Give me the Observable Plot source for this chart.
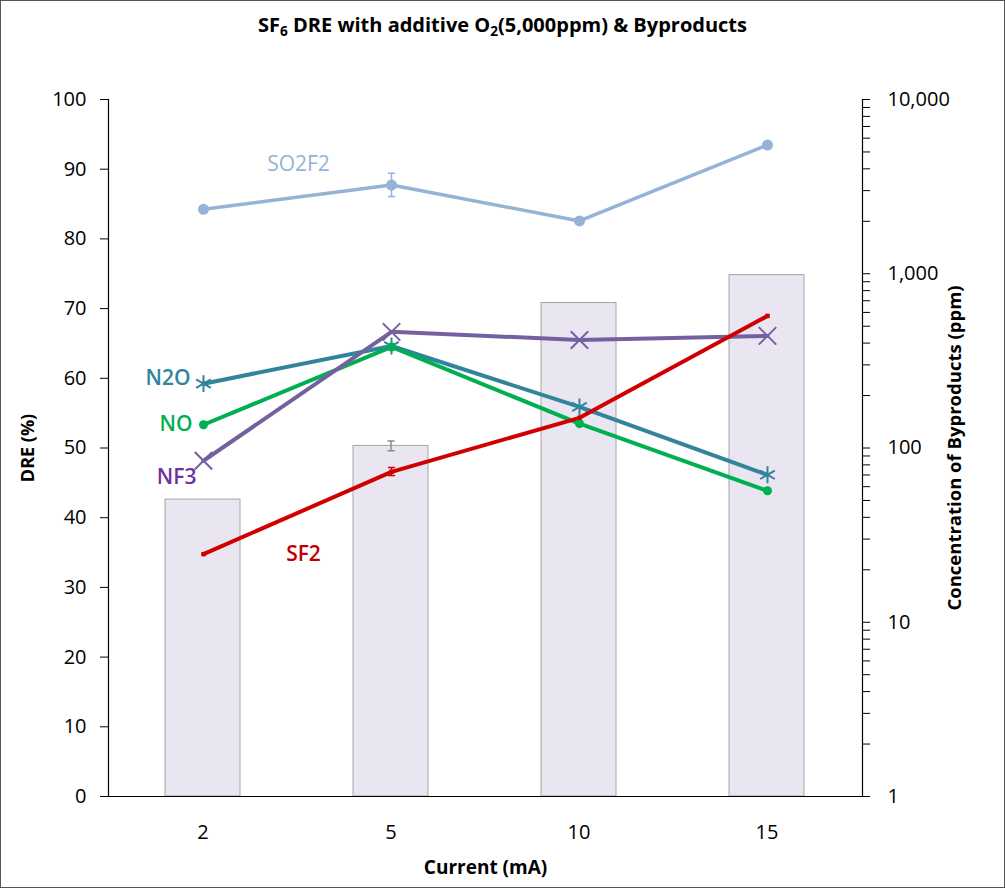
<!DOCTYPE html>
<html><head><meta charset="utf-8">
<script src="https://cdn.jsdelivr.net/npm/d3@7"></script>
<script src="https://cdn.jsdelivr.net/npm/@observablehq/plot@0.6"></script>
<style>
body{margin:0;background:#fff;}
#wrap{position:relative;width:1005px;height:888px;font-family:"Open Sans",sans-serif;overflow:hidden;}
#wrap svg{position:absolute;left:0;top:0;}
#title{position:absolute;top:12px;left:0;width:1005px;text-align:center;font-weight:bold;font-size:20px;line-height:25px;color:#000;z-index:3;}
#title sub{font-size:0.68em;vertical-align:-0.3em;line-height:0;}
#frame{position:absolute;left:0;top:0;width:1003px;height:886px;border:1px solid #555;pointer-events:none;z-index:4;}
</style></head><body>
<div id="wrap"><div id="title">SF<sub>6</sub> DRE with additive O<sub>2</sub>(5,000ppm) &amp; Byproducts</div><div id="frame"></div></div>
<script>
// ---- data ----
const categories = ["2", "5", "10", "15"];
const dre = [42.6, 50.3, 70.8, 74.8];
const dreErrLow = [null, 49.6, null, null];
const dreErrHigh = [null, 51.0, null, null];
const seriesNames = ["SO2F2", "N2O", "NO", "NF3", "SF2"];
const so2f2 = [2344, 3230, 2009, 5480];
const n2o = [234, 385, 172, 70.2];
const no = [136, 380, 138, 56.8];
const nf3 = [84.5, 464, 417, 440];
const sf2 = [24.6, 73.0, 149, 573];
const so2f2ErrLow = [null, 2775, null, null];
const so2f2ErrHigh = [null, 3777, null, null];
const sf2ErrLow = [null, 69.5, null, null];
const sf2ErrHigh = [null, 77.3, null, null];
const dreTicks = [0, 10, 20, 30, 40, 50, 60, 70, 80, 90, 100];
const concTicks = [1, 10, 100, 1000, 10000];
const lineColors = ["#95b3d7", "#31849b", "#00b050", "#7460a0", "#d00000"];
const labelColors = ["#95b3d7", "#31849b", "#00b050", "#7030a0", "#c00000"];

// ---- tables ----
const seriesValues = [so2f2, n2o, no, nf3, sf2];
const lineData = [];
seriesNames.forEach((s, i) => categories.forEach((c, j) => lineData.push({series: s, cat: c, value: seriesValues[i][j]})));
const bySeries = s => lineData.filter(d => d.series === s);
const barData = categories.map((c, j) => ({cat: c, dre: dre[j]}));
const barErr = categories.map((c, j) => ({cat: c, lo: dreErrLow[j], hi: dreErrHigh[j]})).filter(d => d.lo != null);
const mkErr = (lo, hi, s) => categories.map((c, j) => ({cat: c, lo: lo[j], hi: hi[j], series: s})).filter(d => d.lo != null);
const lineErr = [...mkErr(so2f2ErrLow, so2f2ErrHigh, "SO2F2"), ...mkErr(sf2ErrLow, sf2ErrHigh, "SF2")];
const caps = arr => arr.flatMap(d => [{cat: d.cat, y: d.lo, series: d.series}, {cat: d.cat, y: d.hi, series: d.series}]);
const minorTicks = [];
for (let k = 0; k < 4; k++) for (let m = 1; m < 10; m++) minorTicks.push(m * Math.pow(10, k));
minorTicks.push(10000);

const hbar = {draw(ctx, size) { const w = Math.sqrt(size) / 2; ctx.moveTo(-w, 0); ctx.lineTo(w, 0); }};
const colorOf = s => lineColors[seriesNames.indexOf(s)];
const labelOf = s => labelColors[seriesNames.indexOf(s)];

const W = 1005, H = 888;
const M = {marginTop: 99, marginBottom: 92, marginLeft: 108, marginRight: 143};
const font = {fontFamily: "'Open Sans', sans-serif", fontSize: "20px", background: "transparent", color: "#000", overflow: "visible"};

const p1 = Plot.plot({
  width: W, height: H, ...M, style: font,
  x: {type: "band", domain: categories, paddingInner: 0.6, paddingOuter: 0.3, axis: null},
  y: {domain: [0, 100], axis: null},
  marks: [
    Plot.barY(barData, {x: "cat", y: "dre", fill: "#e9e5f1", stroke: "#a6a6a6", strokeWidth: 1}),
    Plot.ruleX(barErr, {x: "cat", y1: "lo", y2: "hi", stroke: "#8c8c8c", strokeWidth: 1.5}),
    Plot.dot(caps(barErr), {x: "cat", y: "y", symbol: hbar, r: 4, stroke: "#8c8c8c", strokeWidth: 1.5}),
    Plot.axisY({ticks: dreTicks, tickSize: 8, tickPadding: 14, label: null, fontSize: 20}),
    Plot.axisX({tickSize: 0, tickPadding: 28, label: null, fontSize: 20}),
    Plot.frame({anchor: "left", stroke: "#000", strokeWidth: 1.2}),
    Plot.frame({anchor: "bottom", stroke: "#000", strokeWidth: 1.2}),
    Plot.text(["DRE (%)"], {frameAnchor: "left", textAnchor: "middle", dx: -80, rotate: -90, fontWeight: "bold", fontSize: 18}),
    Plot.text(["Current (mA)"], {frameAnchor: "bottom", textAnchor: "middle", lineAnchor: "middle", dy: 71, fontWeight: "bold", fontSize: 19})
  ]
});

const p2 = Plot.plot({
  width: W, height: H, ...M, style: font,
  x: {type: "point", domain: categories, padding: 0.5, axis: null},
  y: {type: "log", domain: [1, 10000], axis: null},
  marks: [
    Plot.axisY({anchor: "right", ticks: minorTicks, tickSize: 7, tickPadding: 18, label: null, fontSize: 20,
      tickFormat: d => concTicks.includes(d) ? d3.format(",")(d) : ""}),
    Plot.frame({anchor: "right", stroke: "#000", strokeWidth: 1.2}),
    ...seriesNames.map(s => Plot.line(bySeries(s), {x: "cat", y: "value", stroke: colorOf(s), strokeWidth: s === "SO2F2" ? 3.5 : 4})),
    Plot.ruleX(lineErr, {x: "cat", y1: "lo", y2: "hi", stroke: d => colorOf(d.series), strokeWidth: 1.5}),
    Plot.dot(caps(lineErr), {x: "cat", y: "y", symbol: hbar, r: 4, stroke: d => colorOf(d.series), strokeWidth: 1.5}),
    Plot.dot(bySeries("SO2F2"), {x: "cat", y: "value", r: 5.5, fill: colorOf("SO2F2")}),
    Plot.dot(bySeries("N2O"), {x: "cat", y: "value", r: 8, symbol: "asterisk", stroke: colorOf("N2O"), strokeWidth: 2}),
    Plot.dot(bySeries("NO"), {x: "cat", y: "value", r: 4.5, fill: colorOf("NO")}),
    Plot.dot(bySeries("NF3"), {x: "cat", y: "value", r: 8, symbol: "times", stroke: colorOf("NF3"), strokeWidth: 2}),
    Plot.dot(bySeries("SF2"), {x: "cat", y: "value", r: 2.5, symbol: "square", fill: colorOf("SF2")}),
    Plot.text(bySeries("SO2F2").slice(0, 1), {x: "cat", y: "value", text: "series", dx: 95, dy: -45, fill: labelOf("SO2F2"), fontSize: 21}),
    Plot.text(bySeries("N2O").slice(0, 1), {x: "cat", y: "value", text: "series", dx: -13, dy: -5, textAnchor: "end", fill: labelOf("N2O"), fontSize: 21, fontWeight: 600}),
    Plot.text(bySeries("NO").slice(0, 1), {x: "cat", y: "value", text: "series", dx: -11, dy: 0, textAnchor: "end", fill: labelOf("NO"), fontSize: 21, fontWeight: 600}),
    Plot.text(bySeries("NF3").slice(0, 1), {x: "cat", y: "value", text: "series", dx: -7, dy: 17, textAnchor: "end", fill: labelOf("NF3"), fontSize: 21, fontWeight: 600}),
    Plot.text(bySeries("SF2").slice(0, 1), {x: "cat", y: "value", text: "series", dx: 100, dy: 0, fill: labelOf("SF2"), fontSize: 21, fontWeight: 600}),
    Plot.text(["Concentration of Byproducts (ppm)"], {frameAnchor: "right", textAnchor: "middle", dx: 93, rotate: -90, fontWeight: "bold", fontSize: 18.5})
  ]
});

const wrap = document.getElementById("wrap");
wrap.insertBefore(p1, wrap.firstChild);
wrap.insertBefore(p2, p1.nextSibling);
</script>
</body></html>
